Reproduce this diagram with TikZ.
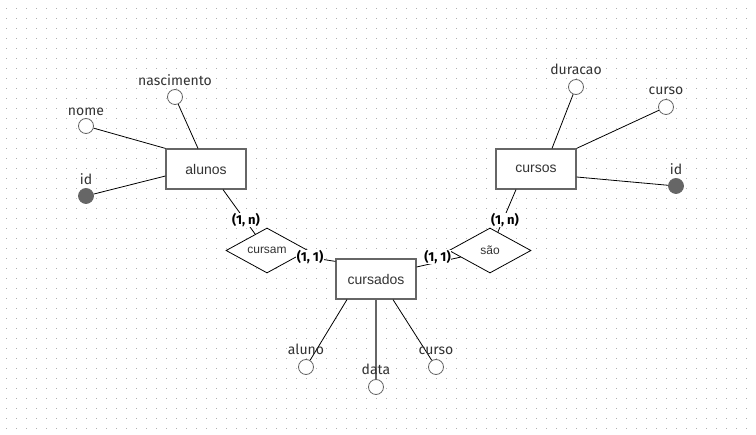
\documentclass[tikz,border=0pt]{standalone}
\usepackage{fontspec}
\setmainfont{Fira Sans}
\newfontfamily\arialf{Liberation Sans}
\usetikzlibrary{shapes.geometric}
\definecolor{stk}{HTML}{666666}
\definecolor{txt}{HTML}{333333}
\definecolor{dotc}{HTML}{B0B0B0}
\begin{document}
\begin{tikzpicture}[x=1pt,y=-1pt,
 entity/.style={draw=stk, line width=1.2pt, fill=white, minimum width=80pt, minimum height=40pt, inner sep=0pt, font=\arialf\fontsize{14}{16}\selectfont, text=txt},
 rel/.style={draw=black, line width=0.8pt, diamond, shape aspect=2, minimum width=82pt, minimum height=45pt, inner sep=0pt, fill=white, font=\arialf\fontsize{12}{14}\selectfont, text=txt},
 attr/.style={circle, draw=stk, line width=0.8pt, fill=white, minimum size=15pt, inner sep=0pt},
 keyattr/.style={attr, fill=stk},
 alabel/.style={anchor=base, font=\fontsize{14}{16}\selectfont, text=txt, inner sep=0pt},
 card/.style={font=\bfseries\fontsize{13}{15}\selectfont, fill=white, inner sep=0.5pt, text=black},
 link/.style={draw=black, line width=0.8pt},
 glink/.style={draw=stk, line width=1.4pt}]
\useasboundingbox (0,0) rectangle (756,435);
\fill[white] (0,0) rectangle (756,435);
\foreach \i in {0,...,74}{\foreach \j in {0,...,42}{\fill[dotc] (6+10*\i,8.5+10*\j) rectangle ++(1,1);}}
% entities
\node[entity] (alunos) at (206,169) {alunos};
\node[entity] (cursos) at (536,169) {cursos};
\node[entity] (cursados) at (376,279) {cursados};
% relationships
\node[rel] (cursam) at (267,250.5) {cursam};
\node[rel] (sao) at (490,250.5) {são};
% attributes
\node[attr] (nasc) at (175,97) {};
\node[attr] (nome) at (86,126) {};
\node[keyattr] (id1) at (86,196) {};
\node[attr] (durac) at (576,87) {};
\node[attr] (curso1) at (666,107) {};
\node[keyattr] (id2) at (676,186) {};
\node[attr] (aluno) at (306,367) {};
\node[attr] (data) at (376,387) {};
\node[attr] (curso2) at (436,367) {};
% connectors
\draw[link] (nome) -- (alunos.north west);
\draw[link] (nasc) -- ([xshift=-8pt]alunos.north);
\draw[link] (id1) -- ([yshift=-7pt]alunos.west);
\draw[link] (durac) -- ([xshift=16pt]cursos.north);
\draw[link] (curso1) -- (cursos.north east);
\draw[link] (id2) -- ([yshift=-8pt]cursos.east);
\draw[link] ([xshift=-29pt]cursados.south) -- (aluno);
\draw[glink] (cursados.south) -- (data);
\draw[link] ([xshift=17pt]cursados.south) -- (curso2);
\draw[link] ([xshift=17pt]alunos.south) -- (cursam);
\draw[link] (cursam) -- ([yshift=-3pt]cursados.north west);
\draw[link] ([xshift=-20pt]cursos.south) -- (sao);
\draw[link] ([yshift=12pt]cursados.east) -- (sao);
% attribute labels
\node[alabel] (lnasc) at (175,86) {nascimento};
\node[alabel] (lnome) at (86,116) {nome};
\node[alabel] (lid1) at (86,185) {id};
\node[alabel] (ldurac) at (576,75) {duracao};
\node[alabel] (lcurso1) at (666,95) {curso};
\node[alabel] (lid2) at (676,175) {id};
\node[alabel] (laluno) at (306,355) {aluno};
\node[alabel] (ldata) at (376,375) {data};
\node[alabel] (lcurso2) at (436,355) {curso};
% cardinalities
\node[card] (c1) at (246,220) {(1, n)};
\node[card] (c2) at (505,220) {(1, n)};
\node[card] (c3) at (310,257) {(1, 1)};
\node[card] (c4) at (437.5,257) {(1, 1)};
\end{tikzpicture}
\end{document}
